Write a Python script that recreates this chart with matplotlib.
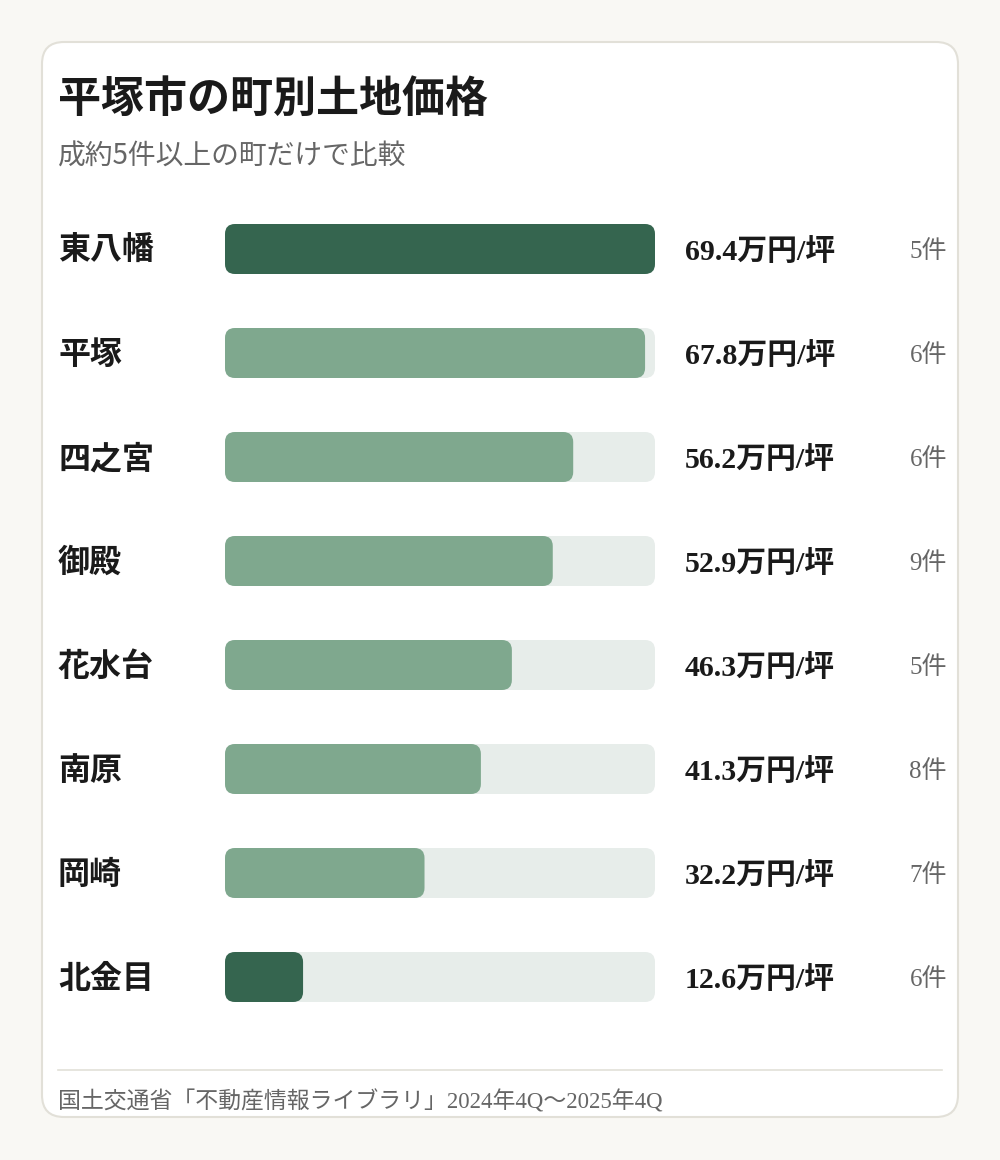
import matplotlib
matplotlib.use("Agg")
import matplotlib.pyplot as plt
from matplotlib.patches import FancyBboxPatch

towns = ["東八幡", "平塚", "四之宮", "御殿", "花水台", "南原", "岡崎", "北金目"]
prices = [69.4, 67.8, 56.2, 52.9, 46.3, 41.3, 32.2, 12.6]
counts = [5, 6, 6, 9, 5, 8, 7, 6]
highlight = [True, False, False, False, False, False, False, True]

title = "平塚市の町別土地価格"
subtitle = "成約5件以上の町だけで比較"
source = "国土交通省「不動産情報ライブラリ」2024年4Q～2025年4Q"

DARK = "#35654F"; LIGHT = "#7FA88E"; TRACK = "#E7EDEA"
BG = "#F9F8F4"

fig = plt.figure(figsize=(10, 11.6), dpi=100, facecolor=BG)
ax = fig.add_axes([0, 0, 1, 1])
ax.set_xlim(0, 1000); ax.set_ylim(1160, 0); ax.axis("off")

ax.add_patch(FancyBboxPatch((42, 42), 916, 1075, boxstyle="round,pad=0,rounding_size=22",
                            fc="white", ec="#E2E0D8", lw=1.5))
sans = ["Noto Sans CJK JP", "DejaVu Sans"]
serif = ["Liberation Serif", "Noto Sans CJK JP"]
ax.text(58, 99, title, fontsize=31, fontweight="bold", family=sans, color="#1A1A1A", va="center")
ax.text(58, 157, subtitle, fontsize=20, family=sans, color="#666666", va="center")

x0, W = 225, 430
vmax = max(prices)
for i, (t, p, c, h) in enumerate(zip(towns, prices, counts, highlight)):
    y = 249 + i * 104
    ax.add_patch(FancyBboxPatch((x0, y - 25), W, 50, boxstyle="round,pad=0,rounding_size=10",
                                fc=TRACK, ec="none"))
    ax.add_patch(FancyBboxPatch((x0, y - 25), p / vmax * W, 50, boxstyle="round,pad=0,rounding_size=10",
                                fc=DARK if h else LIGHT, ec="none"))
    ax.text(58, y + 2, t, fontsize=23, fontweight="bold", family=sans, color="#1A1A1A", va="center")
    ax.text(685, y + 3, f"{p:.1f}万円/坪", fontsize=21.5, fontweight="bold", family=serif,
            color="#1A1A1A", va="center")
    ax.text(947, y + 3, f"{c}件", fontsize=18, family=serif, color="#666666", va="center", ha="right")

ax.plot([58, 942], [1070, 1070], color="#E2E0D8", lw=1.2)
ax.text(58, 1102, source, fontsize=16.5, family=serif, color="#666666", va="center")

fig.savefig("out.png", dpi=100, facecolor=BG)
